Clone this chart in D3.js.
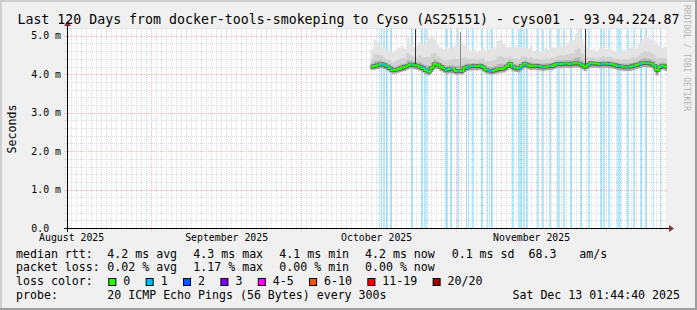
<!DOCTYPE html>
<html lang="en">
<head>
<meta charset="utf-8">
<title>Smokeping - cyso01</title>
<script src="https://d3js.org/d3.v7.min.js"></script>
<style>
body { margin: 0; background: #f0f0f0; }
svg { display: block; font-family: "DejaVu Sans Mono", monospace; }
text { white-space: pre; }
</style>
</head>
<body>
<div id="chart"></div>
<script>
// ---- data ----
var title = "Last 120 Days from docker-tools-smokeping to Cyso (AS25151) - cyso01 - 93.94.224.87";
var rangeStart = "2025-08-15 01:44:40";
var rangeEnd = "2025-12-13 01:44:40";
var firstSample = "2025-10-14 18:45:00";
var sampleHours = 14.4;

// median rtt in ms, one value per sample
var medianMs = [4.21,4.23,4.25,4.28,4.26,4.22,4.17,4.12,4.13,4.15,
  4.18,4.21,4.24,4.27,4.25,4.24,4.21,4.17,4.12,4.08,
  4.18,4.28,4.25,4.21,4.16,4.12,4.15,4.14,4.10,4.11,
  4.10,4.18,4.21,4.22,4.23,4.22,4.24,4.20,4.13,4.11,
  4.10,4.12,4.14,4.15,4.16,4.22,4.29,4.20,4.17,4.16,
  4.24,4.29,4.25,4.23,4.24,4.23,4.22,4.21,4.21,4.22,
  4.23,4.26,4.29,4.28,4.29,4.29,4.28,4.29,4.30,4.29,
  4.25,4.21,4.26,4.30,4.29,4.29,4.28,4.29,4.29,4.28,
  4.27,4.25,4.23,4.22,4.21,4.21,4.21,4.23,4.25,4.27,
  4.30,4.31,4.30,4.29,4.24,4.12,4.20,4.24,4.21];

// slowest ping per sample (top of the smoke), ms
var smokeMaxMs = [4.66,4.92,4.85,4.79,4.70,4.62,4.66,4.58,4.65,4.70,
  4.75,4.68,4.97,4.80,4.72,4.76,4.85,4.80,4.88,4.95,
  5.00,4.92,4.78,4.70,4.66,4.72,4.68,4.75,4.80,4.78,
  4.84,4.76,4.66,4.62,4.66,4.60,4.64,4.70,4.62,4.66,
  4.68,4.72,4.88,4.92,4.80,4.70,4.72,4.68,4.74,4.70,
  4.76,4.72,4.68,4.74,4.62,4.66,4.60,4.64,4.70,4.66,
  4.72,4.70,4.74,4.78,4.76,4.82,4.86,4.90,5.08,5.18,
  4.92,4.78,4.70,4.64,4.66,4.60,4.68,4.72,4.66,4.70,
  4.66,4.62,4.64,4.60,4.66,4.62,4.70,4.74,4.68,4.80,
  4.90,5.00,4.96,4.92,4.88,4.80,4.74,4.70,4.72];

// fastest ping per sample (bottom of the smoke), ms
var smokeMinMs = [4.12,4.13,4.15,4.17,4.15,4.11,4.06,4.02,4.03,4.05,
  4.08,4.10,4.13,4.16,4.14,4.13,4.10,4.06,4.02,3.98,
  4.07,4.16,4.14,4.10,4.05,4.02,4.04,4.03,4.00,4.01,
  4.00,4.07,4.10,4.11,4.12,4.11,4.13,4.09,4.03,4.01,
  4.00,4.02,4.03,4.05,4.06,4.11,4.17,4.09,4.07,4.06,
  4.13,4.17,4.14,4.12,4.13,4.12,4.11,4.10,4.11,4.12,
  4.12,4.15,4.18,4.17,4.18,4.18,4.17,4.18,4.19,4.18,
  4.14,4.10,4.15,4.19,4.18,4.18,4.17,4.18,4.18,4.17,
  4.16,4.14,4.12,4.11,4.10,4.10,4.10,4.12,4.14,4.16,
  4.19,4.20,4.19,4.18,4.13,3.98,4.09,4.13,4.10];

// samples with 1/20 packets lost
var lossAt = ["2025-10-16 13:00","2025-10-16 21:00","2025-10-17 08:10","2025-10-17 21:00",
  "2025-10-18 16:20","2025-10-22 21:00","2025-10-24 19:40","2025-10-25 11:30",
  "2025-10-26 03:20","2025-10-29 16:20","2025-10-30 00:30","2025-10-30 16:20",
  "2025-11-01 03:20","2025-11-02 21:00","2025-11-03 08:10","2025-11-04 02:00",
  "2025-11-05 19:40","2025-11-07 00:30","2025-11-07 11:30","2025-11-07 19:40",
  "2025-11-12 03:20","2025-11-13 08:10","2025-11-13 16:20","2025-11-14 05:20",
  "2025-11-14 21:00","2025-11-17 00:30","2025-11-18 00:30","2025-11-19 13:00",
  "2025-11-21 00:30","2025-11-21 08:10","2025-11-22 08:10","2025-11-23 16:20",
  "2025-11-25 16:20","2025-11-27 08:10","2025-11-29 16:20","2025-11-30 05:20",
  "2025-12-01 08:10","2025-12-03 00:30","2025-12-03 13:00","2025-12-05 00:30",
  "2025-12-06 05:20","2025-12-07 16:20","2025-12-08 16:20","2025-12-10 08:10",
  "2025-12-11 16:20"];

// single slow pings that shoot past the top
var spikeAt = ["2025-10-23 19:40","2025-11-01 16:20","2025-11-26 16:20"];
var spikeTopMs = [5.4, 5.1, 5.4];

var rttStats = [4.2, 4.3, 4.1, 4.2];
var lossStats = [0.02, 1.17, 0.00, 0.00];
var statNames = ["avg", "max", "min", "now"];
var rttSd = 0.1, amPerSec = 68.3;

var lossLabels = ["0", "1", "2", "3", "4-5", "6-10", "11-19", "20/20"];
var lossColors = ["#26ff00", "#00b8ff", "#0059ff", "#7e00ff", "#ff00ff", "#ff5500", "#ff0000", "#a00000"];

var probeText = "20 ICMP Echo Pings (56 Bytes) every 300s";
var stampText = "Sat Dec 13 01:44:40 2025";

// ---- drawing ----
var width = 697, height = 310;
var parse = d3.utcParse("%Y-%m-%d %H:%M:%S");
var parseShort = d3.utcParse("%Y-%m-%d %H:%M");
var t0 = parse(rangeStart), t1 = parse(rangeEnd);
var stepMs = sampleHours * 3600 * 1000;

var x = d3.scaleUtc().domain([t0, t1]).range([67, 667]);
var y = d3.scaleLinear().domain([0, 5.2]).range([228.6, 28.6]);
var px = function(v) { return Math.floor(v) + 0.5; };

var svg = d3.select("#chart").append("svg")
  .attr("width", width)
  .attr("height", height);

// background + 3d frame
svg.append("rect").attr("width", width).attr("height", height).attr("fill", "#f0f0f0");
svg.append("rect").attr("x", 0).attr("y", 0).attr("width", width).attr("height", 2).attr("fill", "#cfcfcf");
svg.append("rect").attr("x", 0).attr("y", 0).attr("width", 2).attr("height", height).attr("fill", "#cfcfcf");
svg.append("rect").attr("x", 0).attr("y", height - 2).attr("width", width).attr("height", 2).attr("fill", "#9e9e9e");
svg.append("rect").attr("x", width - 2).attr("y", 0).attr("width", 2).attr("height", height).attr("fill", "#9e9e9e");

// canvas
svg.append("rect")
  .attr("x", 67).attr("y", 29)
  .attr("width", 600).attr("height", 200)
  .attr("fill", "#ffffff");

svg.append("defs").append("clipPath").attr("id", "plot")
  .append("rect").attr("x", 67).attr("y", 29).attr("width", 600).attr("height", 200);

// grid
var grid = svg.append("g").attr("shape-rendering", "crispEdges").attr("stroke-dasharray", "1,1");
var minorY = d3.range(0, 27).map(function(i) { return i * 0.2; }).filter(function(v) { return Math.abs(v - Math.round(v)) > 0.01; });
var majorY = y.ticks(5);
var minorX = d3.utcDay.range(t0, t1);
var majorX = d3.utcMonth.range(t0, t1);

grid.selectAll(".hmin").data(minorY).enter().append("line")
  .attr("x1", 64).attr("x2", 667)
  .attr("y1", function(d) { return px(y(d)); })
  .attr("y2", function(d) { return px(y(d)); })
  .attr("stroke", "#dadada");
grid.selectAll(".vmin").data(minorX).enter().append("line")
  .attr("y1", 29).attr("y2", 231)
  .attr("x1", function(d) { return px(x(d)); })
  .attr("x2", function(d) { return px(x(d)); })
  .attr("stroke", "#dadada");
grid.selectAll(".hmaj").data(majorY).enter().append("line")
  .attr("x1", 64).attr("x2", 667)
  .attr("y1", function(d) { return px(y(d)); })
  .attr("y2", function(d) { return px(y(d)); })
  .attr("stroke", "#ffb4b4");
grid.selectAll(".vmaj").data(majorX).enter().append("line")
  .attr("y1", 29).attr("y2", 232)
  .attr("x1", function(d) { return px(x(d)); })
  .attr("x2", function(d) { return px(x(d)); })
  .attr("stroke", "#ffb4b4");

// sample rows, with an end row so the last step is drawn
var sample0 = parse(firstSample);
var rows = medianMs.map(function(m, i) {
  return { t: new Date(sample0.getTime() + i * stepMs), med: m, max: smokeMaxMs[i], min: Math.min(smokeMinMs[i], m) };
});
var last = rows[rows.length - 1];
rows.push({ t: new Date(last.t.getTime() + stepMs), med: last.med, max: last.max, min: last.min });

var plot = svg.append("g").attr("clip-path", "url(#plot)");

// loss background bars
plot.append("g").selectAll("rect").data(lossAt.map(parseShort)).enter().append("rect")
  .attr("x", function(d) { return Math.round(x(d)); })
  .attr("y", 29)
  .attr("width", function(d) { return Math.max(1, Math.round(x(new Date(d.getTime() + 7.2 * 3600e3)) - x(d))); })
  .attr("height", 200)
  .attr("fill", lossColors[1])
  .attr("fill-opacity", 0.3);

// smoke, from the outside in
var smoke = [
  { lo: function(d) { return d.med; }, hi: function(d) { return d.max; }, c: "#e4e4e4" },
  { lo: function(d) { return d.med; }, hi: function(d) { return d.med + (d.max - d.med) * 0.45; }, c: "#d2d2d2" },
  { lo: function(d) { return d.med; }, hi: function(d) { return d.med + (d.max - d.med) * 0.18; }, c: "#b4b4b4" },
  { lo: function(d) { return d.min; }, hi: function(d) { return d.med; }, c: "#a6a6a6" },
  { lo: function(d) { return d.med - (d.med - d.min) * 0.45; }, hi: function(d) { return d.med; }, c: "#707070" }
];
smoke.forEach(function(s) {
  plot.append("path")
    .datum(rows)
    .attr("fill", s.c)
    .attr("d", d3.area()
      .curve(d3.curveStepAfter)
      .x(function(d) { return x(d.t); })
      .y0(function(d) { return y(s.lo(d)); })
      .y1(function(d) { return y(s.hi(d)); }));
});

// spikes
plot.append("g").selectAll("line").data(spikeAt).enter().append("line")
  .attr("shape-rendering", "crispEdges")
  .attr("x1", function(d) { return px(x(parseShort(d))); })
  .attr("x2", function(d) { return px(x(parseShort(d))); })
  .attr("y1", function(d, i) { return y(spikeTopMs[i]); })
  .attr("y2", function(d) {
    var t = parseShort(d);
    var i = Math.floor((t - sample0) / stepMs);
    return y(medianMs[i]);
  })
  .attr("stroke", function(d, i) { return spikeTopMs[i] > 5.2 ? "#333333" : "#8a8a8a"; });

// median line
var medLine = d3.line()
  .curve(d3.curveStepAfter)
  .x(function(d) { return x(d.t); })
  .y(function(d) { return y(d.med); });
plot.append("path").datum(rows)
  .attr("fill", "none").attr("stroke", "#202020").attr("stroke-opacity", 0.6)
  .attr("stroke-width", 3.2).attr("d", medLine);
plot.append("path").datum(rows)
  .attr("fill", "none").attr("stroke", lossColors[0])
  .attr("stroke-width", 2).attr("d", medLine);

// median coloured by loss where a packet went missing
plot.append("g").selectAll("line").data(lossAt.map(parseShort)).enter().append("line")
  .attr("x1", function(d) { return x(d); })
  .attr("x2", function(d) { return x(d) + 2; })
  .attr("y1", function(d) { return y(medianMs[Math.floor((d - sample0) / stepMs)]); })
  .attr("y2", function(d) { return y(medianMs[Math.floor((d - sample0) / stepMs)]); })
  .attr("stroke", lossColors[1])
  .attr("stroke-width", 2);

// axes
var axes = svg.append("g").attr("shape-rendering", "crispEdges");
axes.append("line").attr("x1", 64).attr("x2", 670).attr("y1", 228.5).attr("y2", 228.5).attr("stroke", "#000");
axes.append("line").attr("x1", 67.5).attr("x2", 67.5).attr("y1", 232).attr("y2", 25).attr("stroke", "#000");
svg.append("path").attr("d", "M669,225L674,228.5L669,232Z").attr("fill", "#803333");
svg.append("path").attr("d", "M64,26L67.5,21L71,26Z").attr("fill", "#803333");

// y labels
svg.append("g").selectAll("text").data(majorY).enter().append("text")
  .attr("x", 61)
  .attr("y", function(d) { return y(d) + 3.1; })
  .attr("text-anchor", "end")
  .attr("font-size", "9.85px")
  .attr("fill", "#000")
  .text(function(d) { return d === 0 ? "0.0  " : d3.format(".1f")(d) + " m"; });

// x labels, centred in the month
var months = d3.utcMonth.range(d3.utcMonth.floor(t0), t1)
  .map(function(m) { return d3.utcDay.offset(m, 15); })
  .filter(function(m) { return m >= t0 && m <= t1; });
svg.append("g").selectAll("text").data(months).enter().append("text")
  .attr("x", function(d) { return x(d); })
  .attr("y", 240.5)
  .attr("text-anchor", "middle")
  .attr("font-size", "9.85px")
  .attr("fill", "#000")
  .text(d3.utcFormat("%B %Y"));

// title and side texts
svg.append("text")
  .attr("x", 348.5).attr("y", 24)
  .attr("text-anchor", "middle")
  .attr("font-size", "13.25px")
  .attr("fill", "#000")
  .text(title);

svg.append("text")
  .attr("transform", "translate(15.5,129) rotate(-90)")
  .attr("text-anchor", "middle")
  .attr("font-size", "11.6px")
  .attr("fill", "#000")
  .text("Seconds");

svg.append("text")
  .attr("transform", "translate(684,5) rotate(90)")
  .attr("font-size", "8px")
  .attr("fill", "#b4b4b4")
  .text("RRDTOOL / TOBI OETIKER");

// legend
var leg = svg.append("g").attr("font-size", "11.6px").attr("fill", "#000");
var cols = [107.3, 193.3, 279.3, 365];
var rowY = [257.5, 271.3, 285, 299];

leg.append("text").attr("x", 16).attr("y", rowY[0]).text("median rtt:");
rttStats.forEach(function(v, i) {
  leg.append("text").attr("x", cols[i]).attr("y", rowY[0]).text(d3.format(".1f")(v) + " ms " + statNames[i]);
});
leg.append("text").attr("x", 451.7).attr("y", rowY[0]).text(d3.format(".1f")(rttSd) + " ms sd");
leg.append("text").attr("x", 528.5).attr("y", rowY[0]).text(d3.format(".1f")(amPerSec));
leg.append("text").attr("x", 579.3).attr("y", rowY[0]).text("am/s");

leg.append("text").attr("x", 16).attr("y", rowY[1]).text("packet loss:");
lossStats.forEach(function(v, i) {
  leg.append("text").attr("x", cols[i]).attr("y", rowY[1]).text(d3.format(".2f")(v) + " % " + statNames[i]);
});

leg.append("text").attr("x", 16).attr("y", rowY[2]).text("loss color:");
var bx = 108.3;
lossLabels.forEach(function(lab, i) {
  leg.append("rect")
    .attr("x", bx + 0.5).attr("y", 278.5)
    .attr("width", 7).attr("height", 7)
    .attr("fill", lossColors[i])
    .attr("stroke", "#000");
  leg.append("text").attr("x", bx + 15).attr("y", rowY[2]).text(lab);
  bx = bx + 15 + lab.length * 6.97 + 15.4;
});

leg.append("text").attr("x", 16).attr("y", rowY[3]).text("probe:");
leg.append("text").attr("x", 107.3).attr("y", rowY[3]).text(probeText);
leg.append("text").attr("x", 680).attr("y", rowY[3]).attr("text-anchor", "end").text(stampText);
</script>
</body>
</html>
